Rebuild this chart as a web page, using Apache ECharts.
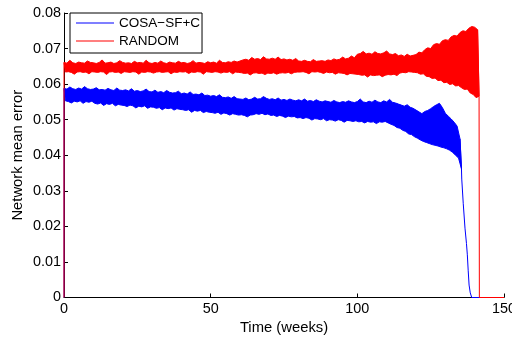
<!DOCTYPE html>
<html>
<head>
<meta charset="utf-8">
<script src="https://cdn.jsdelivr.net/npm/echarts@6/dist/echarts.min.js"></script>
<style>
  html, body { margin: 0; padding: 0; background: #fff; }
  #chart { width: 512px; height: 338px; }
</style>
</head>
<body>
<div id="chart"></div>
<script>
// Weekly upper / lower extent of the network mean error (index = week)
const cosaHigh = [
  .0588,.0586,.0592,.0587,.0585,.0589,.0586,.0593,.0587,.0585,
  .0586,.0590,.0584,.0585,.0583,.0588,.0584,.0582,.0589,.0583,
  .0582,.0584,.0581,.0587,.0580,.0582,.0579,.0581,.0586,.0579,
  .0578,.0583,.0577,.0579,.0576,.0582,.0577,.0575,.0576,.0580,
  .0573,.0575,.0572,.0578,.0571,.0572,.0570,.0575,.0568,.0569,
  .0566,.0568,.0565,.0570,.0563,.0562,.0564,.0560,.0565,.0559,
  .0558,.0557,.0561,.0556,.0558,.0563,.0558,.0559,.0565,.0560,
  .0557,.0559,.0556,.0561,.0555,.0557,.0554,.0558,.0555,.0553,
  .0556,.0553,.0558,.0552,.0554,.0551,.0556,.0552,.0550,.0553,
  .0551,.0549,.0554,.0550,.0548,.0551,.0549,.0553,.0550,.0548,
  .0551,.0558,.0550,.0548,.0552,.0549,.0555,.0550,.0548,.0553,
  .0550,.0557,.0549,.0547,.0544,.0541,.0538,.0542,.0535,.0532,
  .0527,.0522,.0517,.0523,.0526,.0531,.0537,.0542,.0546,.0534,
  .0518,.0510,.0502,.0493,.0482,.0446
];
const cosaLow = [
  .0553,.0551,.0547,.0552,.0550,.0553,.0546,.0551,.0549,.0552,
  .0546,.0544,.0547,.0540,.0545,.0543,.0546,.0539,.0543,.0541,
  .0540,.0537,.0541,.0539,.0533,.0538,.0536,.0539,.0532,.0536,
  .0535,.0532,.0534,.0528,.0533,.0531,.0533,.0527,.0531,.0529,
  .0528,.0526,.0528,.0521,.0526,.0524,.0526,.0520,.0523,.0521,
  .0520,.0518,.0521,.0515,.0519,.0517,.0513,.0517,.0515,.0513,
  .0514,.0512,.0508,.0513,.0514,.0517,.0515,.0518,.0514,.0516,
  .0512,.0513,.0509,.0512,.0510,.0506,.0510,.0508,.0509,.0505,
  .0506,.0503,.0506,.0504,.0499,.0503,.0502,.0500,.0503,.0497,
  .0500,.0499,.0496,.0500,.0498,.0493,.0498,.0497,.0495,.0497,
  .0494,.0495,.0491,.0495,.0493,.0494,.0489,.0494,.0493,.0495,
  .0491,.0487,.0484,.0478,.0476,.0470,.0467,.0460,.0458,.0452,
  .0448,.0443,.0439,.0436,.0433,.0430,.0428,.0426,.0423,.0421,
  .0418,.0414,.0408,.0400,.0392,.0362
];
// Collapse of the COSA-SF+C error at the end of the run
const cosaTailWeeks = [135.6, 136.1, 136.7, 137.2, 137.5, 137.8, 138.1, 138.5, 139, 150];
const cosaTailError = [.0333, .0265, .0195, .0152, .0120, .0075, .0035, .0013, 0, 0];

const randHigh = [
  .0661,.0659,.0667,.0660,.0658,.0662,.0660,.0659,.0665,.0661,
  .0660,.0658,.0661,.0668,.0659,.0660,.0662,.0658,.0660,.0666,
  .0661,.0659,.0660,.0658,.0664,.0660,.0661,.0659,.0667,.0660,
  .0658,.0661,.0659,.0665,.0660,.0658,.0662,.0660,.0659,.0664,
  .0660,.0661,.0658,.0660,.0666,.0659,.0661,.0660,.0658,.0663,
  .0660,.0662,.0659,.0667,.0661,.0660,.0663,.0661,.0665,.0662,
  .0665,.0668,.0670,.0667,.0675,.0670,.0672,.0669,.0677,.0671,
  .0670,.0673,.0670,.0676,.0669,.0671,.0668,.0670,.0667,.0672,
  .0665,.0664,.0667,.0664,.0663,.0669,.0664,.0665,.0666,.0664,
  .0668,.0666,.0671,.0668,.0670,.0676,.0671,.0673,.0679,.0674,
  .0684,.0686,.0692,.0685,.0687,.0684,.0691,.0686,.0685,.0688,
  .0693,.0685,.0683,.0686,.0680,.0682,.0678,.0684,.0679,.0681,
  .0683,.0690,.0688,.0697,.0702,.0700,.0711,.0714,.0712,.0722,
  .0725,.0723,.0733,.0737,.0735,.0745,.0750,.0748,.0757,.0762,
  .0760,.0753
];
const randLow = [
  .0634,.0635,.0633,.0628,.0634,.0635,.0633,.0634,.0629,.0635,
  .0634,.0633,.0635,.0634,.0627,.0634,.0635,.0633,.0634,.0630,
  .0635,.0634,.0633,.0635,.0634,.0628,.0634,.0633,.0635,.0634,
  .0631,.0634,.0635,.0633,.0634,.0635,.0629,.0634,.0633,.0635,
  .0634,.0635,.0630,.0634,.0633,.0635,.0634,.0628,.0635,.0634,
  .0633,.0635,.0634,.0631,.0634,.0633,.0635,.0629,.0634,.0633,
  .0632,.0630,.0631,.0626,.0631,.0632,.0630,.0631,.0627,.0631,
  .0630,.0632,.0628,.0631,.0632,.0631,.0633,.0629,.0633,.0634,
  .0634,.0635,.0633,.0629,.0635,.0634,.0635,.0633,.0630,.0634,
  .0632,.0633,.0628,.0632,.0631,.0630,.0626,.0630,.0629,.0628,
  .0627,.0625,.0626,.0620,.0626,.0624,.0625,.0626,.0621,.0625,
  .0627,.0626,.0628,.0624,.0631,.0633,.0632,.0635,.0634,.0633,
  .0632,.0628,.0629,.0622,.0621,.0616,.0617,.0610,.0611,.0604,
  .0605,.0599,.0601,.0595,.0596,.0590,.0585,.0586,.0575,.0571,
  .0562,.0566
];
// Drop of the RANDOM error once the run stops
const randTailWeeks = [141.6, 150];
const randTailError = [0, 0];

const seriesNames = ['COSA\u2212SF+C', 'RANDOM'];
const seriesColors = ['#0000ff', '#ff0000'];
const xTicks = [0, 50, 100, 150];
const yTicks = [0, 0.01, 0.02, 0.03, 0.04, 0.05, 0.06, 0.07, 0.08];

// Noise band (filled between the weekly high and low) plus start / end strokes
function bandSeries(name, color, high, low, tailWeeks, tailVals) {
  const rows = high.map((h, w) => [w, h, low[w]]);
  return {
    name, type: 'custom', coordinateSystem: 'cartesian2d',
    itemStyle: { color },
    encode: { x: 0, y: [1, 2] },
    data: rows,
    renderItem(params, api) {
      if (params.dataIndex !== 0) return null;
      const upper = rows.map(r => api.coord([r[0], r[1]]));
      const lower = rows.map(r => api.coord([r[0] + 0.5, r[2]])).reverse();
      const last = rows.length - 1;
      const head = [api.coord([0, 0]), api.coord([0, rows[0][1]])];
      const tail = [api.coord([last, rows[last][1]]), api.coord([last + 0.5, rows[last][2]])];
      for (let i = 0; i < tailWeeks.length; i++) tail.push(api.coord([tailWeeks[i], tailVals[i]]));
      const stroke = { stroke: color, lineWidth: 1, fill: null };
      return {
        type: 'group',
        children: [
          { type: 'polyline', shape: { points: head }, style: stroke },
          { type: 'polygon', shape: { points: upper.concat(lower) },
            style: { fill: color, stroke: color, lineWidth: 1, lineJoin: 'miter' } },
          { type: 'polyline', shape: { points: tail }, style: stroke }
        ]
      };
    }
  };
}

const font = 'Liberation Sans, Arial, Helvetica, sans-serif';
const chart = echarts.init(document.getElementById('chart'), null, { renderer: 'canvas' });
chart.setOption({
  animation: false,
  backgroundColor: '#fff',
  grid: { left: 64, right: 8, top: 13, bottom: 40.5, outerBoundsMode: 'none', containLabel: false },
  legend: {
    left: 70, top: 13, orient: 'vertical',
    data: seriesNames,
    icon: 'rect', itemWidth: 38, itemHeight: 1.2, itemGap: 0,
    padding: [1, 2, 3, 6],
    borderColor: '#000', borderWidth: 1, backgroundColor: '#fff',
    textStyle: { fontFamily: font, fontSize: 13.5, color: '#000', lineHeight: 18 }
  },
  xAxis: {
    type: 'value', min: xTicks[0], max: xTicks[xTicks.length - 1], interval: 50,
    name: 'Time (weeks)', nameLocation: 'middle', nameGap: 22.5, nameMoveOverlap: false,
    nameTextStyle: { fontFamily: font, fontSize: 14.8, color: '#000' },
    axisLine: { lineStyle: { color: '#000', width: 1 } },
    axisTick: { inside: true, length: 4, lineStyle: { color: '#000' } },
    axisLabel: { fontFamily: font, fontSize: 14.4, color: '#000', margin: 5 },
    splitLine: { show: false }
  },
  yAxis: {
    type: 'value', min: yTicks[0], max: yTicks[yTicks.length - 1], interval: 0.01,
    name: 'Network mean error', nameLocation: 'middle', nameGap: 39, nameMoveOverlap: false,
    nameTextStyle: { fontFamily: font, fontSize: 14.8, color: '#000' },
    axisLine: { show: true, lineStyle: { color: '#000', width: 1 } },
    axisTick: { show: true, inside: true, length: 4, lineStyle: { color: '#000' } },
    axisLabel: {
      fontFamily: font, fontSize: 14.4, color: '#000', margin: 3,
      formatter: v => (v === 0 ? '0' : v.toFixed(2))
    },
    splitLine: { show: false }
  },
  series: [
    bandSeries(seriesNames[0], seriesColors[0], cosaHigh, cosaLow, cosaTailWeeks, cosaTailError),
    bandSeries(seriesNames[1], seriesColors[1], randHigh, randLow, randTailWeeks, randTailError)
  ]
});
</script>
</body>
</html>
